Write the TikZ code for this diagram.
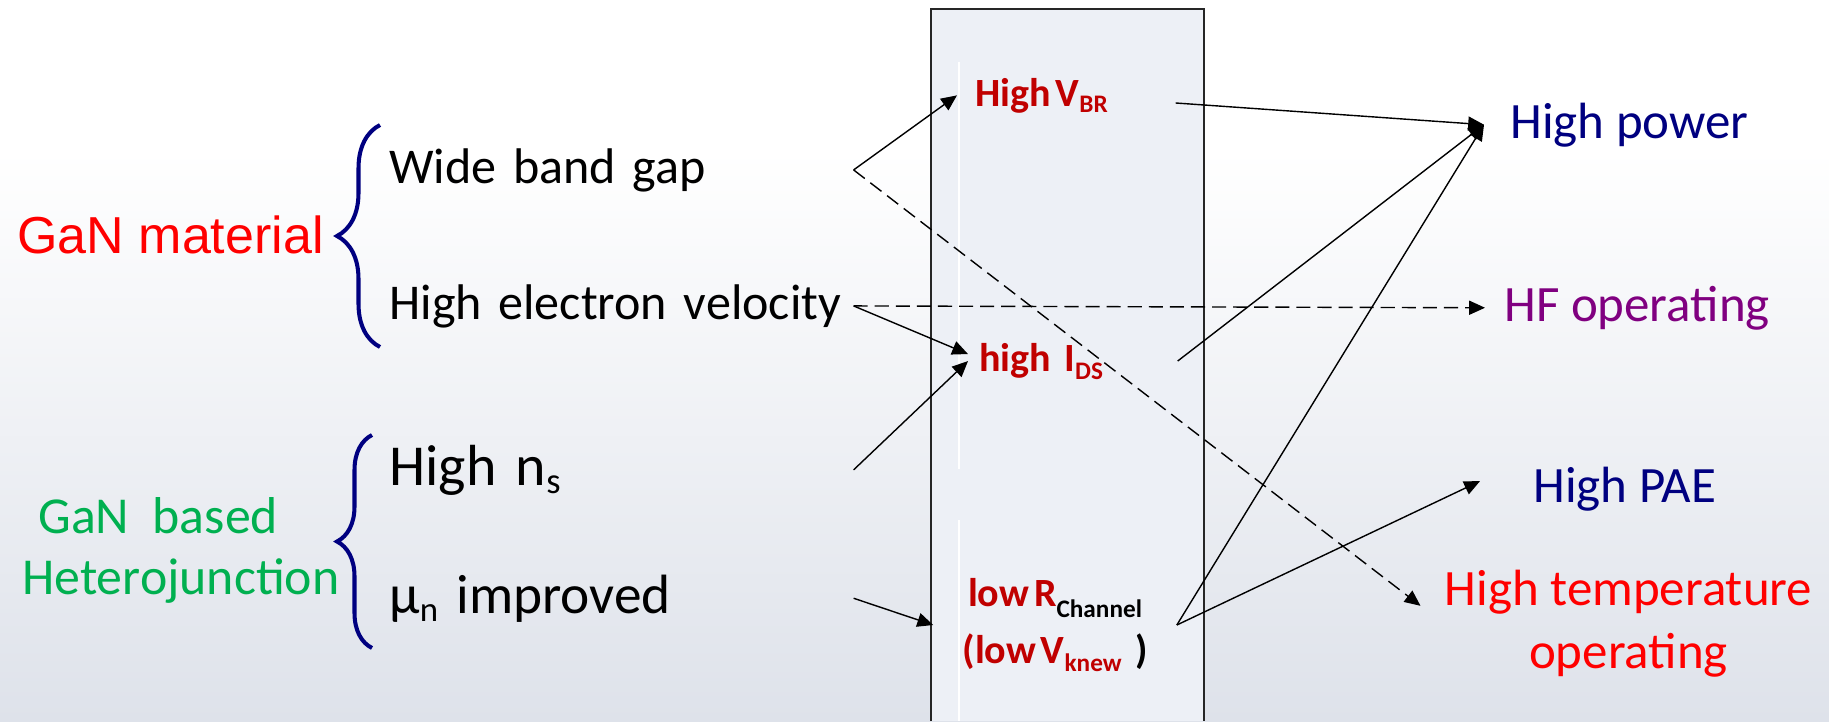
\documentclass[tikz,border=0pt]{standalone}
\usepackage{fontspec}
\usepackage{graphicx}
\setmainfont{Carlito}
\newfontfamily\arialfont{Liberation Sans}
\usetikzlibrary{arrows.meta,decorations.pathreplacing}
\definecolor{navyblue}{RGB}{0,0,128}
\definecolor{darkred}{RGB}{192,0,0}
\definecolor{violet2}{RGB}{128,0,128}
\definecolor{gangreen}{RGB}{0,176,80}
\definecolor{colfill}{RGB}{237,240,246}
\definecolor{bgbottom}{RGB}{222,226,234}
% small lowered index
\newcommand{\lsub}[2][0.2em]{\raisebox{-#1}{\scalebox{0.63}{#2}}}

\begin{document}
\begin{tikzpicture}[
  x=0.02cm, y=-0.02cm,
  item/.style={anchor=base west, inner sep=0pt, text width=9.28cm, align=left, font=\fontsize{28.5}{34}\selectfont},
  effect/.style={anchor=base west, inner ysep=0pt, align=left, text=darkred, font=\fontsize{22.8}{32.4}\selectfont\bfseries},
  result/.style={anchor=base west, inner ysep=0pt, font=\fontsize{29}{36}\selectfont},
  grp/.style={draw=navyblue, line width=2.3pt, decorate, decoration={brace, amplitude=#1}},
  arr/.style={-{Triangle[length=9pt,width=8pt]}, line width=0.8pt},
  dasharr/.style={arr, dash pattern=on 8pt off 4pt}
]
\useasboundingbox (0,0) rectangle (1829,721);
% background
\fill[white] (0,0) rectangle (1829,150);
\shade[top color=white, bottom color=bgbottom] (0,150) rectangle (1829,721);

% middle column
\fill[colfill] (931,9) rectangle (1204,721);
\draw[line width=0.8pt, black!85] (931,721) -- (931,9) -- (1204,9) -- (1204,721);
\draw[white, line width=0.7pt] (959,62) -- (959,469) (959,520) -- (959,721);

% left groups
\node[font=\arialfont\fontsize{29.6}{35}\selectfont, text=red, anchor=base west, inner sep=0pt] (gan) at (17,253) {GaN material};
\draw[grp=0.86cm] (380,347) -- (380,125);
\node[item] (wbg) at (389,183) {Wide band gap};
\node[item] (hev) at (389,319) {High electron velocity};

\node[text=gangreen, align=left, anchor=west, inner sep=0pt, font=\fontsize{29.5}{34.7}\selectfont] (gbh) at (22,550) {\hspace*{0.32cm}GaN\ \ based\\Heterojunction};
\draw[grp=0.7cm] (372,648) -- (372,435);
\node[item, font=\fontsize{33}{38}\selectfont] (hns) at (389,485) {High n\lsub[0.15em]{s}};
\node[item, font=\fontsize{31.5}{38}\selectfont] (mun) at (389,613) {µ\lsub[0.15em]{n} improved};

% device effects
\node[effect, inner xsep=0.36cm, text width=3.64cm] (vbr) at (957,106) {High\kern0.12em V\lsub[0.15em]{BR}};
\node[effect, inner xsep=0.22cm, text width=3.74cm] (ids) at (968,371) {high I\lsub{DS}};
\node[effect, anchor=center, inner sep=0pt, text width=4.86cm, align=center] (lowr) at (1055,625) {low\kern0.12em R\lsub[0.27em]{\color{black}Channel}\\(low\kern0.12em V\lsub{knew} {\color{black})}};

% results
\node[result, text=navyblue, inner xsep=0.52cm] (hpow) at (1484,138) {High power};
\node[result, text=violet2, inner xsep=0.38cm] (hf) at (1485,321) {HF operating};
\node[result, text=navyblue, inner xsep=1.06cm] (pae) at (1480,502) {High PAE};
\node[result, text=red, anchor=center, align=center, inner xsep=0.48cm] (temp) at (1628.5,624) {High temperature\\operating};

\draw[arr] (wbg.east) -- (vbr.west);
\draw[dasharr] (wbg.east) -- (temp.175);
\draw[dasharr] (hev.east) -- (hf.west);
\draw[arr] (hev.east) -- ([yshift=0.14cm]ids.west);
\draw[arr] (hns.east) -- (ids.west);
\draw[arr] (mun.east) -- (lowr.west);
\draw[arr] (vbr.356) -- (hpow.west);
\draw[arr] (ids.east) -- (hpow.west);
\draw[arr] (lowr.east) -- (hpow.west);
\draw[arr] (lowr.east) -- (pae.177);
\end{tikzpicture}
\end{document}
